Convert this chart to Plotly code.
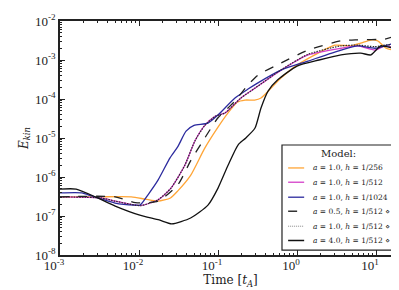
import plotly.graph_objects as go

# ---- data (time in t_A, kinetic energy) ----
t_orange = [1e-3, 3e-3, 8e-3, 0.012, 0.0174, 0.025, 0.031, 0.045, 0.068, 0.1, 0.134, 0.175, 0.22,
            0.29, 0.35, 0.47, 0.63, 1.0, 1.85, 3.0, 4.8, 6.4, 8.6, 10.5, 13.4, 20.7]
e_orange = [3.1e-7, 3.1e-7, 3.1e-7, 2.7e-7, 2.4e-7, 2.9e-7, 4.4e-7, 1.1e-6, 5.5e-6, 1.9e-5, 4.4e-5, 8.3e-5, 9.4e-5,
            9.4e-5, 1.06e-4, 1.9e-4, 3.5e-4, 7.4e-4, 1.5e-3, 2.4e-3, 2.3e-3, 2.7e-3, 3.25e-3, 3.1e-3, 2.0e-3, 1.7e-3]

t_magenta = [1e-3, 3.3e-3, 5e-3, 8.9e-3, 0.0106, 0.0174, 0.0254, 0.038, 0.051, 0.068, 0.092, 0.123, 0.195,
             0.294, 0.63, 1.38, 3.6, 5.9, 9.7, 13.0, 17.0, 20.7]
e_magenta = [3.1e-7, 2.9e-7, 2.4e-7, 1.9e-7, 1.85e-7, 2.6e-7, 5.2e-7, 2.0e-6, 8.4e-6, 2.1e-5, 3.6e-5, 4.4e-5, 1.06e-4,
             1.9e-4, 5.5e-4, 1.35e-3, 2.0e-3, 2.3e-3, 1.8e-3, 2.3e-3, 2.0e-3, 1.2e-3]

t_blue = [1e-3, 1.9e-3, 2.26e-3, 4.97e-3, 8.9e-3, 0.0103, 0.013, 0.0174, 0.0247, 0.031, 0.0394, 0.0497, 0.0746,
          0.1, 0.164, 0.24, 0.32, 0.627, 1.38, 3.6, 5.9, 9.7, 13.0, 17.0, 20.7]
e_blue = [3.9e-7, 3.9e-7, 3.5e-7, 2.15e-7, 1.9e-7, 1.9e-7, 3.5e-7, 8.3e-7, 3.1e-6, 6.0e-6, 1.5e-5, 2.1e-5, 2.4e-5,
          3.9e-5, 1.06e-4, 1.8e-4, 2.6e-4, 5.5e-4, 9.4e-4, 1.8e-3, 2.3e-3, 2.0e-3, 2.3e-3, 2.7e-3, 3.0e-3]

t_dash = [1e-3, 5e-3, 9e-3, 0.0174, 0.031, 0.045, 0.068, 0.1, 0.134, 0.164, 0.24, 0.32, 0.63,
          1.38, 3.6, 5.9, 13.0, 17.0, 19.0, 20.7]
e_dash = [3.1e-7, 3.1e-7, 2.2e-7, 2.4e-7, 6.3e-7, 2.6e-6, 1.0e-5, 3.3e-5, 5.9e-5, 8.9e-5, 2.3e-4, 4.1e-4, 8.4e-4,
          1.8e-3, 3.1e-3, 3.3e-3, 3.45e-3, 4.1e-3, 4.6e-3, 5.0e-3]

t_dot = [1e-3, 3.3e-3, 5e-3, 8.9e-3, 0.0106, 0.0174, 0.0254, 0.038, 0.051, 0.068, 0.092, 0.123, 0.195,
         0.294, 0.63, 1.38, 3.6, 5.9, 9.7, 13.0, 17.0, 20.7]
e_dot = [3.1e-7, 2.9e-7, 2.4e-7, 1.9e-7, 1.85e-7, 2.6e-7, 5.2e-7, 2.0e-6, 8.4e-6, 2.1e-5, 3.6e-5, 4.4e-5, 1.06e-4,
         1.9e-4, 5.6e-4, 1.4e-3, 2.3e-3, 2.4e-3, 2.2e-3, 2.4e-3, 2.6e-3, 4.6e-3]

t_black = [1e-3, 1.6e-3, 3e-3, 5e-3, 0.01, 0.018, 0.026, 0.045, 0.0746, 0.1, 0.134, 0.179, 0.225, 0.294,
           0.35, 0.43, 0.57, 1.0, 1.9, 3.6, 6.4, 8.6, 11.5, 17.0, 20.7]
e_black = [4.9e-7, 4.9e-7, 2.9e-7, 1.8e-7, 1.07e-7, 7.9e-8, 6.3e-8, 8.9e-8, 1.9e-7, 5.2e-7, 2.0e-6, 6.6e-6, 1.0e-5, 1.8e-5,
           5.9e-5, 1.6e-4, 3.1e-4, 7.0e-4, 1.0e-3, 1.35e-3, 1.5e-3, 1.35e-3, 2.3e-3, 2.0e-3, 1.9e-3]

labels = ["<i>a</i> = 1.0, <i>h</i> = 1/256",
          "<i>a</i> = 1.0, <i>h</i> = 1/512",
          "<i>a</i> = 1.0, <i>h</i> = 1/1024",
          "<i>a</i> = 0.5, <i>h</i> = 1/512 \u22c4",
          "<i>a</i> = 1.0, <i>h</i> = 1/512 \u22c4",
          "<i>a</i> = 4.0, <i>h</i> = 1/512 \u22c4"]
legend_title = "Model:"

x_tickvals = [1e-3, 1e-2, 1e-1, 1e0, 1e1]
x_ticktext = ["10<sup>-3</sup>", "10<sup>-2</sup>", "10<sup>-1</sup>", "10<sup>0</sup>", "10<sup>1</sup>"]
y_tickvals = [1e-8, 1e-7, 1e-6, 1e-5, 1e-4, 1e-3, 1e-2]
y_ticktext = ["10<sup>-8</sup>", "10<sup>-7</sup>", "10<sup>-6</sup>", "10<sup>-5</sup>",
              "10<sup>-4</sup>", "10<sup>-3</sup>", "10<sup>-2</sup>"]

series = [
    (t_orange, e_orange, "#ffa536", "solid", 1.3),
    (t_magenta, e_magenta, "#d43fc8", "solid", 1.3),
    (t_blue, e_blue, "#2b2a9e", "solid", 1.3),
    (t_dash, e_dash, "#222222", "dash", 1.3),
    (t_dot, e_dot, "#2a2a2a", "1.5px,1.2px", 1.2),
    (t_black, e_black, "#111111", "solid", 1.3),
]
legend_line_colors = ["#ffa536", "#d43fc8", "#2b2a9e", "#333333", "#888888", "#111111"]
legend_line_widths = [1.3, 1.3, 1.3, 1.5, 1.0, 1.5]
legend_dashes = ["solid", "solid", "solid", "dash", "1px,1px", "solid"]

fig = go.Figure()
for (t, e, col, dash, w), lab in zip(series, labels):
    fig.add_trace(go.Scatter(x=t, y=e, mode="lines", name=lab, showlegend=False,
                             line=dict(color=col, dash=dash, width=w, shape="spline", smoothing=0.6)))

font_family = "DejaVu Serif"
tick_family = "Liberation Serif"

# ---- hand-drawn legend box (paper coordinates) ----
shapes = [dict(type="rect", xref="paper", yref="paper", x0=0.651, x1=0.982, y0=0.021, y1=0.470,
               line=dict(color="#222", width=1.2), fillcolor="white", layer="above")]
annotations = [dict(text=legend_title, xref="paper", yref="paper", x=0.816, y=0.433,
                    xanchor="center", yanchor="middle", showarrow=False,
                    font=dict(family=font_family, size=10, color="#222"))]
entry_y = [0.372, 0.311, 0.247, 0.187, 0.123, 0.062]
for lab, ly, lc, lw, ld in zip(labels, entry_y, legend_line_colors, legend_line_widths, legend_dashes):
    shapes.append(dict(type="line", xref="paper", yref="paper", x0=0.669, x1=0.716, y0=ly, y1=ly,
                       line=dict(color=lc, width=lw, dash=ld), layer="above"))
    annotations.append(dict(text=lab, xref="paper", yref="paper", x=0.737, y=ly,
                            xanchor="left", yanchor="middle", showarrow=False,
                            font=dict(family=font_family, size=7.5, color="#222")))

minor_x = [m * 10.0 ** k for k in range(-3, 2) for m in range(2, 10)]
minor_y = [m * 10.0 ** k for k in range(-8, -2) for m in range(2, 10)]

fig.update_layout(
    width=399, height=290,
    margin=dict(l=52, r=6, t=13, b=43),
    paper_bgcolor="white", plot_bgcolor="white",
    font=dict(family=font_family, color="#222", size=11),
    showlegend=False,
    shapes=shapes, annotations=annotations,
)
fig.update_xaxes(type="log", range=[-3, 1.316], automargin=False,
                 tickvals=x_tickvals, ticktext=x_ticktext,
                 ticks="inside", ticklen=5, tickwidth=1, tickcolor="#222",
                 showline=True, linecolor="#222", linewidth=1.5, mirror="ticks",
                 showgrid=False, zeroline=False, ticklabelstandoff=-2, ticklabelshift=-6,
                 tickfont=dict(family=tick_family, size=13),
                 minor=dict(tickvals=minor_x, ticks="inside", ticklen=2.5, tickcolor="#222", showgrid=False),
                 title=dict(text="Time [<i>t<sub>A</sub></i>]", standoff=2,
                            font=dict(family=font_family, size=12)))
fig.update_yaxes(type="log", range=[-8, -2], automargin=False,
                 tickvals=y_tickvals, ticktext=y_ticktext,
                 ticks="inside", ticklen=5, tickwidth=1, tickcolor="#222",
                 showline=True, linecolor="#222", linewidth=1.5, mirror="ticks",
                 showgrid=False, zeroline=False,
                 tickfont=dict(family=tick_family, size=13),
                 minor=dict(tickvals=minor_y, ticks="inside", ticklen=2.5, tickcolor="#222", showgrid=False),
                 title=dict(text="<i>E<sub>kin</sub></i>", standoff=4,
                            font=dict(family=font_family, size=12)))

fig.write_html("out.html")
